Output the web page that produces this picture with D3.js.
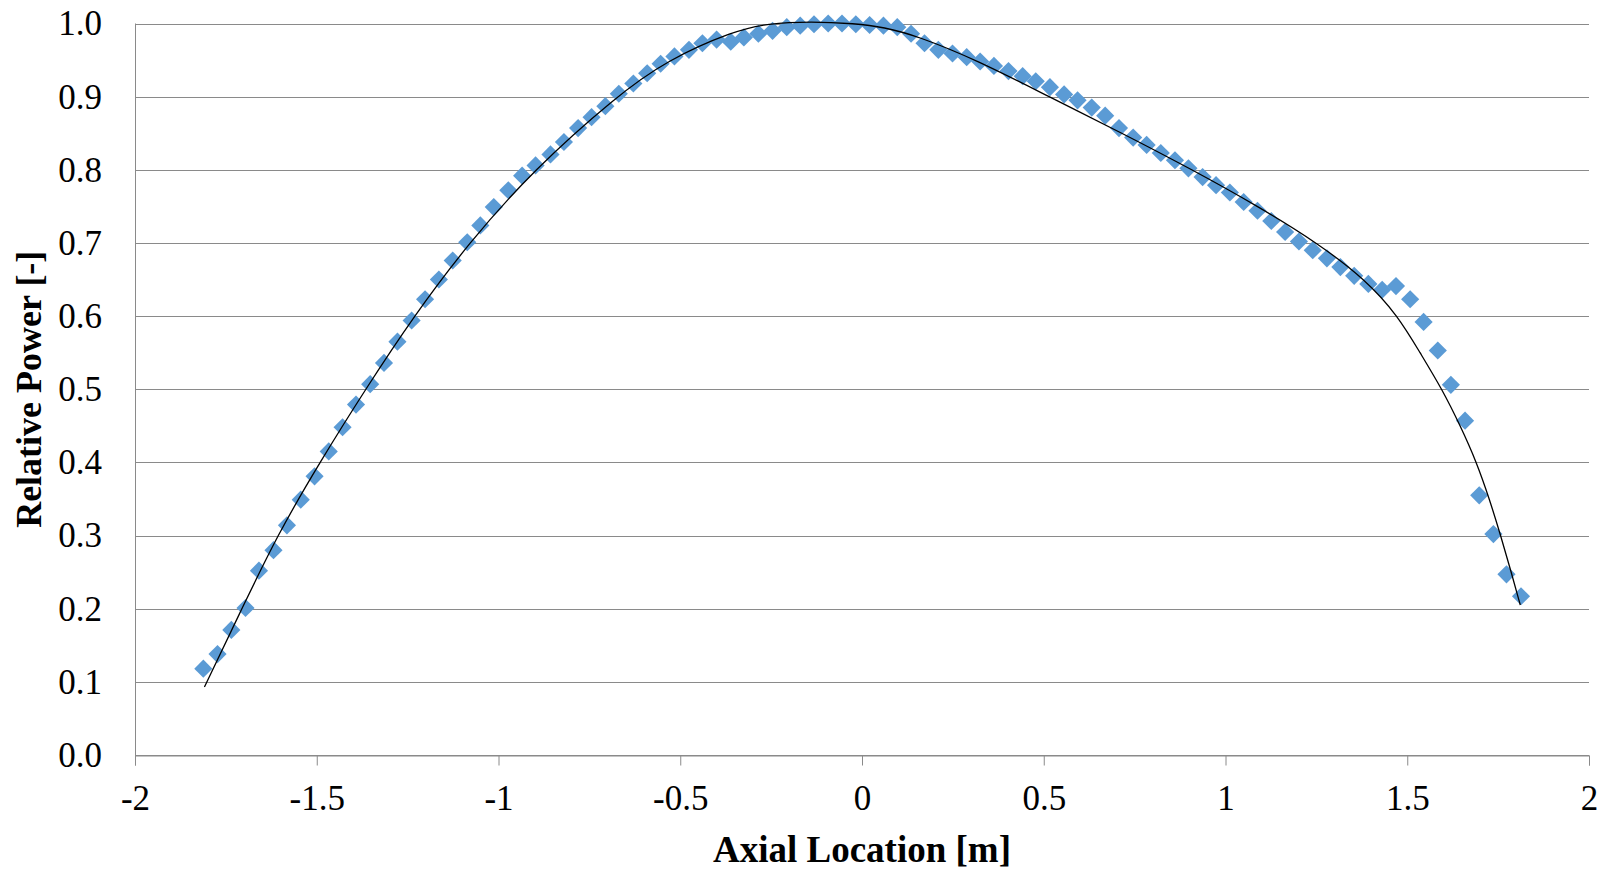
<!DOCTYPE html>
<html>
<head>
<meta charset="utf-8">
<script src="https://cdn.jsdelivr.net/npm/d3@7"></script>
<style>
    body { margin: 0; background: #fff; }
    svg { display: block; }
    text { font-family: "Liberation Serif", "Times New Roman", serif; fill: #000; }
</style>
</head>
<body>
<div id="container"><svg></svg></div>
<script>
let width = 1616;
let height = 870;

// measured points (axial location [m], relative power [-])
let pos = [-1.812, -1.773, -1.735, -1.696, -1.659, -1.619, -1.582, -1.544, -1.506, -1.467,
    -1.429, -1.392, -1.353, -1.315, -1.278, -1.239, -1.202, -1.164, -1.126, -1.086,
    -1.050, -1.013, -0.973, -0.935, -0.898, -0.857, -0.820, -0.781, -0.744, -0.706,
    -0.669, -0.629, -0.591, -0.554, -0.516, -0.476, -0.439, -0.400, -0.361, -0.325,
    -0.285, -0.246, -0.207, -0.170, -0.132, -0.093, -0.055, -0.017, 0.021, 0.059,
    0.097, 0.135, 0.172, 0.210, 0.249, 0.288, 0.325, 0.363, 0.403, 0.442,
    0.478, 0.517, 0.556, 0.593, 0.632, 0.669, 0.707, 0.746, 0.783, 0.822,
    0.861, 0.898, 0.937, 0.974, 1.012, 1.050, 1.088, 1.126, 1.164, 1.202,
    1.240, 1.279, 1.316, 1.354, 1.393, 1.431, 1.469, 1.508, 1.545, 1.584,
    1.620, 1.659, 1.698, 1.737, 1.773, 1.813];
let power = [0.118, 0.138, 0.171, 0.201, 0.252, 0.280, 0.314, 0.349, 0.381, 0.415,
    0.448, 0.479, 0.507, 0.536, 0.565, 0.594, 0.623, 0.650, 0.676, 0.701,
    0.724, 0.749, 0.772, 0.792, 0.806, 0.821, 0.838, 0.857, 0.872, 0.887,
    0.904, 0.918, 0.932, 0.945, 0.955, 0.964, 0.973, 0.978, 0.975, 0.981,
    0.986, 0.990, 0.995, 0.997, 0.999, 1.000, 1.000, 0.999, 0.998, 0.997,
    0.995, 0.986, 0.973, 0.964, 0.959, 0.954, 0.948, 0.942, 0.935, 0.928,
    0.921, 0.913, 0.903, 0.895, 0.885, 0.874, 0.857, 0.844, 0.834, 0.823,
    0.813, 0.802, 0.790, 0.779, 0.769, 0.756, 0.744, 0.730, 0.715, 0.702,
    0.690, 0.679, 0.667, 0.655, 0.644, 0.636, 0.641, 0.623, 0.592, 0.553,
    0.506, 0.457, 0.355, 0.302, 0.247, 0.217];

// fitted trend line
let trendPos = [-1.809, -1.706, -1.609, -1.492, -1.366, -1.233, -1.082, -0.903, -0.677, -0.536,
    -0.352, -0.26, -0.14, -0.02, 0.06, 0.152, 0.316, 0.514, 0.716, 0.909,
    1.09, 1.253, 1.385, 1.475, 1.535, 1.596, 1.646, 1.691, 1.726, 1.757,
    1.786, 1.811];
let trendPower = [0.093, 0.2, 0.3, 0.4, 0.5, 0.6, 0.7, 0.8, 0.9, 0.95,
    0.99, 1.0, 1.003, 1.0, 0.995, 0.983, 0.95, 0.9, 0.85, 0.8,
    0.75, 0.7, 0.65, 0.6, 0.55, 0.5, 0.45, 0.4, 0.35, 0.3,
    0.25, 0.205];

let xTicks = [-2, -1.5, -1, -0.5, 0, 0.5, 1, 1.5, 2];
let yTicks = [0, 0.1, 0.2, 0.3, 0.4, 0.5, 0.6, 0.7, 0.8, 0.9, 1.0];

let xTitle = "Axial Location [m]";
let yTitle = "Relative Power [-]";

function draw_chart() {
    let svg = d3.select('#container')
        .select('svg')
        .attr('width', width)
        .attr('height', height);

    let x = d3.scaleLinear().domain([-2, 2]).range([135, 1589]);
    let y = d3.scaleLinear().domain([0, 1]).range([755, 23.5]);

    let points = pos.map((p, i) => ({x: p, y: power[i]}));
    let trend = trendPos.map((p, i) => ({x: p, y: trendPower[i]}));

    // horizontal gridlines
    svg.append("g")
        .attr("stroke", "#8a8a8a")
        .attr("stroke-width", 1)
        .selectAll("line")
        .data(yTicks)
        .join("line")
        .attr("x1", x(-2))
        .attr("x2", x(2))
        .attr("y1", d => Math.round(y(d)) + 0.5)
        .attr("y2", d => Math.round(y(d)) + 0.5);

    // y axis line + labels
    svg.append("line")
        .attr("x1", x(-2) + 0.5).attr("x2", x(-2) + 0.5)
        .attr("y1", y(1)).attr("y2", y(0))
        .attr("stroke", "#8a8a8a");

    svg.append("g")
        .selectAll("text")
        .data(yTicks)
        .join("text")
        .attr("x", 102)
        .attr("y", d => y(d))
        .attr("dy", "0.34em")
        .attr("text-anchor", "end")
        .style("font-size", "35px")
        .text(d => d3.format(".1f")(d));

    // x axis with outside ticks, plain hyphen for minus
    let xAxis = d3.axisBottom(x)
        .tickValues(xTicks)
        .tickSize(10)
        .tickPadding(20)
        .tickFormat(d => String(d));

    let gx = svg.append("g")
        .attr("transform", `translate(0,${Math.round(y(0)) + 0.5})`)
        .call(xAxis);
    gx.select(".domain").attr("stroke", "#8a8a8a");
    gx.selectAll(".tick line").attr("stroke", "#8a8a8a");
    gx.selectAll(".tick text")
        .attr("fill", "#000")
        .style("font-family", '"Liberation Serif", "Times New Roman", serif')
        .style("font-size", "35px");

    // markers (diamonds = rotated squares)
    let diamond = d3.symbol().type(d3.symbolSquare).size(165);
    svg.append("g")
        .attr("fill", "#5b9bd5")
        .selectAll("path")
        .data(points)
        .join("path")
        .attr("d", diamond)
        .attr("transform", d => `translate(${x(d.x)},${y(d.y)}) rotate(45)`);

    // trend line, smoothed through the read-off points
    let line = d3.line()
        .x(d => x(d.x))
        .y(d => y(d.y))
        .curve(d3.curveBasis);
    svg.append("path")
        .datum(trend)
        .attr("fill", "none")
        .attr("stroke", "#000")
        .attr("stroke-width", 1.3)
        .attr("d", line);

    // axis titles
    svg.append("text")
        .attr("x", (x(-2) + x(2)) / 2)
        .attr("y", 862)
        .attr("text-anchor", "middle")
        .style("font-size", "37px")
        .style("font-weight", "bold")
        .text(xTitle);

    svg.append("text")
        .attr("transform", `translate(41,${(y(0) + y(1)) / 2}) rotate(-90)`)
        .attr("text-anchor", "middle")
        .style("font-size", "36px")
        .style("font-weight", "bold")
        .text(yTitle);
}

draw_chart();
</script>
</body>
</html>
